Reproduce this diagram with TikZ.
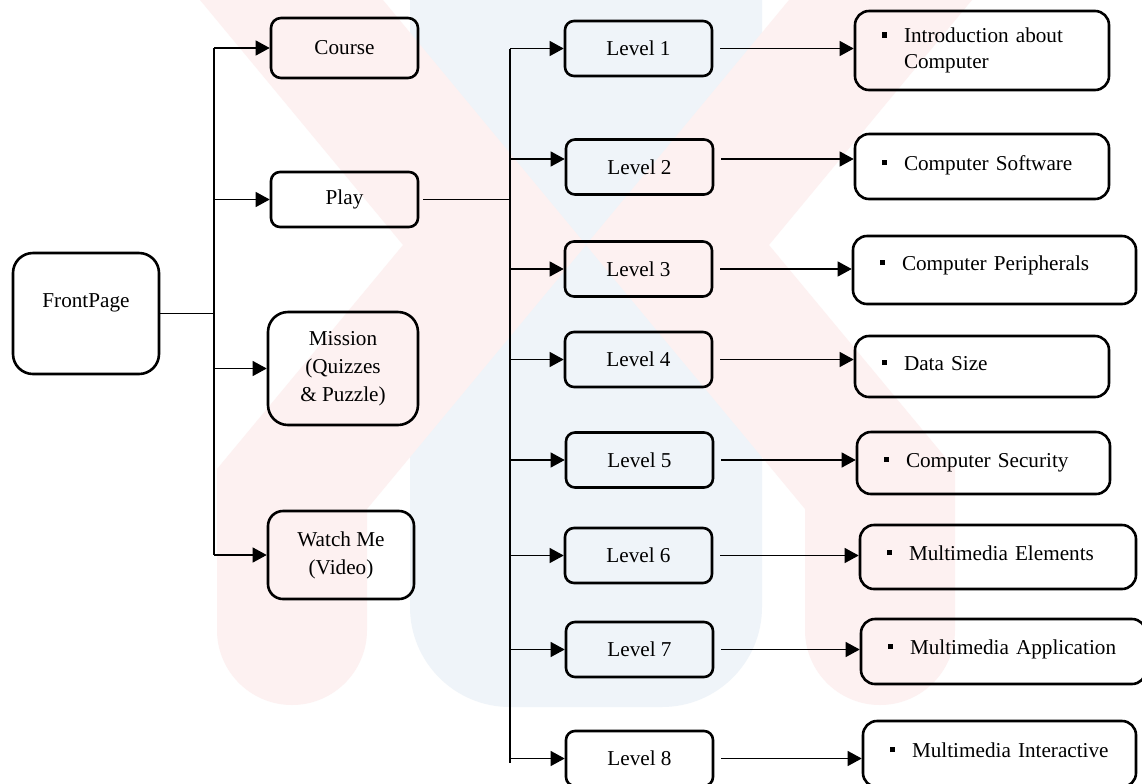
\documentclass[tikz,border=0pt]{standalone}
\usepackage{fontspec}
\setmainfont{Liberation Serif}
\usetikzlibrary{arrows.meta,positioning,calc}
\definecolor{wmpink}{RGB}{253,241,241}
\definecolor{wmblue}{RGB}{239,244,249}
\newcommand{\bul}{\makebox[11pt][l]{\rule[2.4pt]{2.7pt}{2.7pt}}}

\begin{document}
\begin{tikzpicture}[x=0.5pt,y=-0.5pt,
    box/.style={draw,line width=1.3pt,rounded corners=4.5pt,align=center,
      inner sep=0pt,font=\fontsize{10.6}{14}\selectfont},
    level/.style={box,minimum width=73.5pt,minimum height=27.5pt},
    topic/.style={box,rounded corners=7pt,align=left,inner xsep=13.5pt,
      text width=#1,font=\fontsize{10.6}{13}\selectfont},
    link/.style={line width=0.6pt},
    arr/.style={link,-{Triangle[length=7pt,width=7.5pt]}}]
    \useasboundingbox (0,0) rectangle (1142,783);
    \fill[white] (0,0) rectangle (1142,783);

    % faint watermark behind the chart
    \fill[wmblue,rounded corners=50pt] (410,-120) -- (410,707) -- (762,707) -- (762,-120) -- cycle;
    \fill[wmpink] (200,0) -- (383,0) -- (586,245) -- (367,509)
      [rounded corners=37.5pt] -- (367,705) -- (217,705) [sharp corners] -- (217,469)
      -- (403,245) -- cycle;
    \fill[wmpink] (972,0) -- (789,0) -- (586,245) -- (805,509)
      [rounded corners=37.5pt] -- (805,705) -- (955,705) [sharp corners] -- (955,469)
      -- (769,245) -- cycle;

    % first column
    \node[box,rounded corners=10pt,minimum width=73pt,minimum height=60.5pt,
      text height=7pt,text depth=13.5pt] (front) at (86,313.5) {FrontPage};

    % menu
    \node[box,rounded corners=5pt,minimum width=73.5pt,minimum height=30pt] (course) at (344.5,48) {Course};
    \node[box,minimum width=73.5pt,minimum height=27.5pt] (play) at (344.5,199.5) {Play};
    \node[box,rounded corners=10pt,minimum width=75pt,minimum height=56.5pt] (mission) at (343,368.5) {Mission\\(Quizzes\\\& Puzzle)};
    \node[box,rounded corners=7.5pt,minimum width=73pt,minimum height=44pt] (watch) at (341,555) {Watch Me\\(Video)};

    % levels
    \node[level] (l1) at (638.5,48.5) {Level 1};
    \node[level] (l2) at (639.5,167) {Level 2};
    \node[level] (l3) at (638.5,269) {Level 3};
    \node[level] (l4) at (638.5,359.5) {Level 4};
    \node[level] (l5) at (639.5,460) {Level 5};
    \node[level] (l6) at (638.5,555.5) {Level 6};
    \node[level] (l7) at (639.5,649.5) {Level 7};
    \node[level] (l8) at (639.5,758.5) {Level 8};

    % topics
    \node[topic=100pt,minimum height=39.5pt] (t1) at (982,50.5) {\bul Introduction about\\\hspace*{11pt}Computer};
    \node[topic=100pt,minimum height=32.5pt,text height=7pt,text depth=3.5pt] (t2) at (982,166.5) {\bul Computer Software};
    \node[topic=114.5pt,minimum height=34pt,text height=7pt,text depth=7pt] (t3) at (994.5,270) {\bul Computer Peripherals};
    \node[topic=100pt,minimum height=30.5pt,text height=7pt,text depth=3.5pt] (t4) at (982,366.5) {\bul Data Size};
    \node[topic=99.5pt,minimum height=31pt,text height=7pt,text depth=3pt] (t5) at (983.5,463) {\bul Computer Security};
    \node[topic=111pt,minimum height=32pt,text height=7pt,text depth=4pt] (t6) at (998,557) {\bul Multimedia Elements};
    \node[topic=115.5pt,minimum height=32.5pt,text height=7pt,text depth=4.5pt] (t7) at (1003.5,651.5) {\bul Multimedia Application};
    \node[topic=109.5pt,minimum height=33pt,text height=7pt,text depth=4pt] (t8) at (999.5,754) {\bul Multimedia Interactive};

    % front page to menu
    \coordinate (fbus) at (214,0);
    \draw[link] (front.east) -- (front.east -| fbus);
    \draw[link] (fbus |- course.west) -- (fbus |- watch.west);
    \draw[arr] (fbus |- course.west) -- (course.west);
    \draw[arr] (fbus |- play.west) -- (play.west);
    \draw[arr] (fbus |- mission.west) -- (mission.west);
    \draw[arr] (fbus |- watch.west) -- (watch.west);

    % play to levels
    \coordinate (lbus) at (510,0);
    \coordinate (lend) at (510,763);
    \coordinate (l2in) at ([yshift=4pt]l2.west);
    \coordinate (l2out) at ([xshift=3.5pt,yshift=4pt]l2.east);
    \draw[link] ([xshift=2pt]play.east) -- (play.east -| lbus);
    \draw[link] (lbus |- l1.west) -- (lend);
    \draw[arr] (lbus |- l1.west) -- (l1.west);
    \draw[arr] (l2in -| lbus) -- (l2in);
    \draw[arr] (lbus |- l3.west) -- (l3.west);
    \draw[arr] (lbus |- l4.west) -- (l4.west);
    \draw[arr] (lbus |- l5.west) -- (l5.west);
    \draw[arr] (lbus |- l6.west) -- (l6.west);
    \draw[arr] (lbus |- l7.west) -- (l7.west);
    \draw[arr] (lbus |- l8.west) -- (l8.west);

    % levels to topics
    \draw[arr] ([xshift=3.5pt]l1.east) -- (t1.west |- l1.east);
    \draw[arr] (l2out) -- (l2out -| t2.west);
    \draw[arr] ([xshift=3.5pt]l3.east) -- (t3.west |- l3.east);
    \draw[arr] ([xshift=3.5pt]l4.east) -- (t4.west |- l4.east);
    \draw[arr] ([xshift=3.5pt]l5.east) -- (t5.west |- l5.east);
    \draw[arr] ([xshift=3.5pt]l6.east) -- (t6.west |- l6.east);
    \draw[arr] ([xshift=3.5pt]l7.east) -- (t7.west |- l7.east);
    \draw[arr] ([xshift=3.5pt]l8.east) -- (t8.west |- l8.east);
\end{tikzpicture}
\end{document}
